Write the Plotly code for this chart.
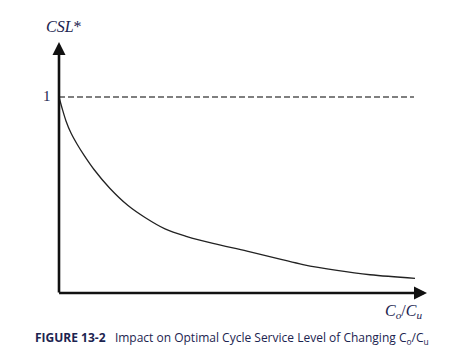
import plotly.graph_objects as go

# Data (Co/Cu ratio vs optimal CSL*)
ratio = [0.0, 0.085, 0.197, 0.338, 0.507, 0.704, 0.986, 1.437, 1.944, 2.423, 2.986, 3.606, 4.338, 5.296, 6.225, 6.873, 7.831, 8.761, 10.028]
csl = [1.0, 0.944, 0.878, 0.816, 0.760, 0.703, 0.630, 0.533, 0.446, 0.385, 0.327, 0.288, 0.253, 0.214, 0.173, 0.145, 0.115, 0.093, 0.075]
ref_x = [0.0, 10.0]
ref_y = [1.0, 1.0]

W, H = 467, 359
x0px, y0px = 59, 293
xs, ys = 35.5, 196.0
xr = [(0 - x0px) / xs, (W - x0px) / xs]
yr = [(y0px - H) / ys, y0px / ys]

fig = go.Figure()
fig.add_trace(go.Scatter(x=ref_x, y=ref_y, mode="lines",
                         line=dict(color="#000", width=1.2, dash="6px,3px"),
                         hoverinfo="skip"))
fig.add_trace(go.Scatter(x=ratio, y=csl, mode="lines",
                         line=dict(color="#222", width=1.3, shape="spline", smoothing=1.0),
                         hoverinfo="skip"))

x_tip = (427 - x0px) / xs
y_tip = (y0px - 42) / ys

fig.add_annotation(x=0, y=y_tip, ax=0, ay=-0.005, xref="x", yref="y", axref="x", ayref="y",
                   showarrow=True, arrowhead=2, arrowsize=1, arrowwidth=2.6, arrowcolor="#111", text="")
fig.add_annotation(x=x_tip, y=0, ax=-0.04, ay=0, xref="x", yref="y", axref="x", ayref="y",
                   showarrow=True, arrowhead=2, arrowsize=1, arrowwidth=2.6, arrowcolor="#111", text="")

serif = "Liberation Serif"
ink = "#1c2450"
fig.add_annotation(x=64 / W, y=1 - 26 / H, xref="paper", yref="paper", showarrow=False,
                   xanchor="center", yanchor="middle",
                   text="<i>CSL</i>*", font=dict(family=serif, size=16, color=ink))
fig.add_annotation(x=47 / W, y=1 - 96 / H, xref="paper", yref="paper", showarrow=False,
                   xanchor="center", yanchor="middle",
                   text="1", font=dict(family=serif, size=15, color=ink))
fig.add_annotation(x=403 / W, y=1 - 311 / H, xref="paper", yref="paper", showarrow=False,
                   xanchor="center", yanchor="middle",
                   text="<i>C<sub>o</sub></i>/<i>C<sub>u</sub></i>",
                   font=dict(family=serif, size=16, color=ink))
fig.add_annotation(x=33 / W, y=1 - 338 / H, xref="paper", yref="paper", showarrow=False,
                   xanchor="left", yanchor="middle",
                   text="<b>FIGURE 13-2</b>   Impact on Optimal Cycle Service Level of Changing C<sub>o</sub>/C<sub>u</sub>",
                   font=dict(family="Open Sans", size=12, color=ink))

fig.update_layout(width=W, height=H, margin=dict(l=0, r=0, t=0, b=0),
                  paper_bgcolor="white", plot_bgcolor="white", showlegend=False,
                  xaxis=dict(range=xr, visible=False, fixedrange=True),
                  yaxis=dict(range=yr, visible=False, fixedrange=True))

fig.write_html("out.html", config={"displayModeBar": False},
               post_script="document.body.style.margin='0';document.body.style.overflow='hidden';")
